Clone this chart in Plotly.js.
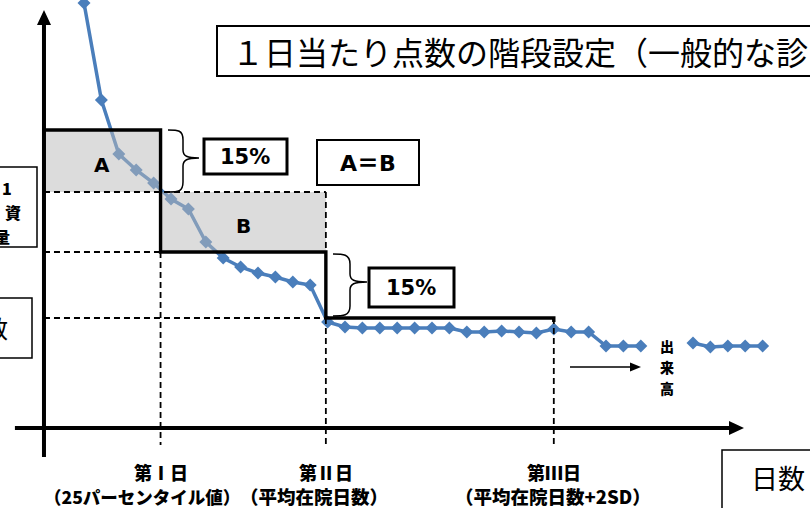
<!DOCTYPE html>
<html><head><meta charset="utf-8">
<script src="https://cdn.plot.ly/plotly-3.0.1.min.js"></script>
<style>html,body{margin:0;padding:0;background:#fff}</style>
</head><body><div id="chart" style="width:810px;height:508px"></div>
<script>
// ---- data ----
const days = [0,1,2,3,4,5,6,7,8,9,10,11,12,13,14,15,16,17,18,19,20,21,22,23,24,25,26,27,28,29,30,31,32,33,34,35,36,37,38,39];
const pointsPerDay = [42.5,32.8,27.4,25.8,24.5,22.9,21.9,18.6,17.0,16.1,15.5,15.1,14.6,14.3,10.6,10.1,10.0,10.0,10.0,10.0,10.0,10.0,9.6,9.6,9.7,9.6,9.5,9.9,9.6,9.6,8.2,8.2,8.2,null,null,8.5,8.1,8.2,8.2,8.2];
const periodEndDays = [4.4, 13.9, 27.0];          // 第Ⅰ日, 第Ⅱ日, 第Ⅲ日
const stepLevels = [29.8, 17.6, 11.0];            // 入院期間Ⅰ, Ⅱ, Ⅲ の点数
const reducedLevel = [23.6];                      // A/B 境界の点数
const originDay = [-2.3];
const periodLabels = ['第Ⅰ日', '第Ⅱ日', '第Ⅲ日'];
const periodNotes = ['（25パーセンタイル値）', '（平均在院日数）', '（平均在院日数+2SD）'];
const volumeLabel = ['出', '来', '高'];

// ---- helpers (paper coords from pixels; margins are 0) ----
const W = 810, H = 508;
const px = v => v / W, py = v => 1 - v / H;
const pth = pts => pts.map((p, i) => (i ? 'L' : 'M') + px(p[0]) + ',' + py(p[1])).join(' ') + ' Z';
const brace = (x0, y0, y1, xs, xt, ym) =>
  `M${px(x0)},${py(y0)} C${px(x0+10)},${py(y0)} ${px(xs)},${py(y0)} ${px(xs)},${py(y0+10)} ` +
  `L${px(xs)},${py(ym-8)} C${px(xs)},${py(ym-2)} ${px(xs+4)},${py(ym)} ${px(xt)},${py(ym)} ` +
  `C${px(xs+4)},${py(ym)} ${px(xs)},${py(ym+2)} ${px(xs)},${py(ym+8)} ` +
  `L${px(xs)},${py(y1-10)} C${px(xs)},${py(y1)} ${px(x0+10)},${py(y1)} ${px(x0)},${py(y1)}`;

const dash = {color: '#000', width: 1.8, dash: '6px,4px'};
const bottomY = -1.7;
const shapes = [];
// gray areas A and B (overlay)
shapes.push({type:'rect', xref:'x', yref:'y', layer:'above', x0: originDay[0], x1: periodEndDays[0], y0: reducedLevel[0], y1: stepLevels[0], fillcolor:'rgb(185,185,185)', opacity:0.5, line:{width:0}});
shapes.push({type:'rect', xref:'x', yref:'y', layer:'above', x0: periodEndDays[0], x1: periodEndDays[1], y0: stepLevels[1], y1: reducedLevel[0], fillcolor:'rgb(185,185,185)', opacity:0.5, line:{width:0}});
// dashed guide lines
const seg = (x0,y0,x1,y1) => shapes.push({type:'line', xref:'x', yref:'y', layer:'above', x0, y0, x1, y1, line: dash});
seg(originDay[0], reducedLevel[0], periodEndDays[1], reducedLevel[0]);
seg(originDay[0], stepLevels[1], periodEndDays[0], stepLevels[1]);
seg(originDay[0], stepLevels[2], periodEndDays[1], stepLevels[2]);
seg(periodEndDays[0], stepLevels[1], periodEndDays[0], bottomY);
seg(periodEndDays[1], reducedLevel[0], periodEndDays[1], stepLevels[1]);
seg(periodEndDays[1], stepLevels[2], periodEndDays[1], bottomY);
seg(periodEndDays[2], stepLevels[2], periodEndDays[2], bottomY - 0.2);
// step line
let sp = `M${originDay[0]},${stepLevels[0]}`;
for (let i = 0; i < stepLevels.length; i++) {
  sp += ` L${periodEndDays[i]},${stepLevels[i]}`;
  if (i < stepLevels.length - 1) sp += ` L${periodEndDays[i]},${stepLevels[i+1]}`;
}
sp += ` L${periodEndDays[2]},${stepLevels[2]-0.4}`;
shapes.push({type:'path', xref:'x', yref:'y', layer:'above', path: sp, line:{color:'#000', width:3.4}});
// axes
shapes.push({type:'line', xref:'x', yref:'y', layer:'above', x0: originDay[0], x1: originDay[0], y0: -2.9, y1: 40.3, line:{color:'#000', width:4}});
shapes.push({type:'line', xref:'x', yref:'y', layer:'above', x0: -3.97, x1: 37.2, y0: 0, y1: 0, line:{color:'#000', width:4}});
shapes.push({type:'path', xref:'paper', yref:'paper', layer:'above', path: pth([[44,10],[37,25],[51,25]]), fillcolor:'#000', line:{width:0}});
shapes.push({type:'path', xref:'paper', yref:'paper', layer:'above', path: pth([[744,428],[729,421],[729,435]]), fillcolor:'#000', line:{width:0}});
// small arrow near 出来高
shapes.push({type:'line', xref:'paper', yref:'paper', layer:'above', x0: px(570), x1: px(632), y0: py(367), y1: py(367), line:{color:'#000', width:1.5}});
shapes.push({type:'path', xref:'paper', yref:'paper', layer:'above', path: pth([[641,367],[630,362.5],[630,371.5]]), fillcolor:'#000', line:{width:0}});
// braces
shapes.push({type:'path', xref:'paper', yref:'paper', layer:'above', path: brace(168,130,192,183,199,158), line:{color:'#000', width:1.5}});
shapes.push({type:'path', xref:'paper', yref:'paper', layer:'above', path: brace(333,254,316,350,367,282), line:{color:'#000', width:1.5}});
// boxes
const box = (x0,y0,x1,y1,w) => shapes.push({type:'rect', xref:'paper', yref:'paper', layer:'above', x0:px(x0), x1:px(x1), y0:py(y1), y1:py(y0), fillcolor:'#fff', line:{color:'#000', width:w}});
box(217,26,830,76,2);
box(204,139,287,174,3);
box(317,140,419,185,2);
box(369,268,454,307,3);
box(722,450,830,530,1.5);
box(-20,167,37,247,1.5);
box(-20,298,32,358,1.5);

// annotations
const ann = [];
const txt = (t, x, y, size, opts={}) => ann.push(Object.assign({text: t, x: px(x), y: py(y), xref:'paper', yref:'paper', showarrow:false, xanchor:'center', yanchor:'middle', borderpad:0, font:{family:'Noto Sans CJK JP', size, color:'#000'}}, opts));
const heavy = (size, fam) => ({family: fam || 'Noto Sans CJK JP', size, color:'#000', weight: 900});
txt('１日当たり点数の階段設定（一般的な診', 231, 51, 32, {xanchor:'left'});
txt('A', 102, 165, 20, {font: heavy(20, 'DejaVu Sans')});
txt('B', 243, 226, 20, {font: heavy(20, 'DejaVu Sans')});
txt('15%', 245, 157, 21, {font: heavy(21, 'DejaVu Sans')});
txt('15%', 411, 288, 21, {font: heavy(21, 'DejaVu Sans')});
txt('A＝B', 368, 163, 22, {font: heavy(22, 'DejaVu Sans, Noto Sans CJK JP')});
volumeLabel.forEach((c, i) => txt(c, 667, 346 + 21 * i, 14, {font: heavy(14)}));
txt('日数', 778, 477, 27);
txt('1', 7, 188, 16, {font: heavy(16)});
txt('資', 13, 212, 16, {font: heavy(16)});
txt('量', 2, 236, 16, {font: heavy(16)});
txt('数', 9, 327, 24, {xanchor:'right'});
const noteX = [142, 314, 553];
for (let i = 0; i < periodLabels.length; i++) {
  ann.push({text: periodLabels[i], x: periodEndDays[i], xref:'x', y: py(472), yref:'paper', showarrow:false, xanchor:'center', yanchor:'middle', borderpad:0, font: heavy(18)});
  txt(periodNotes[i], noteX[i], 496, 18, {font: heavy(i === 0 ? 17.5 : 18.5)});
}

const trace = {
  x: days, y: pointsPerDay, type:'scatter', mode:'lines+markers', connectgaps:false,
  line:{color:'#4a7ebb', width:3.5}, marker:{symbol:'diamond', size:10, color:'#4a7ebb'},
  hoverinfo:'skip'
};

const layout = {
  width: W, height: H, margin:{l:0, r:0, t:0, b:0, pad:0},
  paper_bgcolor:'#fff', plot_bgcolor:'#fff', showlegend:false,
  xaxis:{range:[-84/17.4, (W-84)/17.4], visible:false, fixedrange:true},
  yaxis:{range:[-8, 42.8], visible:false, fixedrange:true},
  shapes, annotations: ann
};
Plotly.newPlot('chart', [trace], layout, {displayModeBar:false, staticPlot:true});
</script></body></html>
